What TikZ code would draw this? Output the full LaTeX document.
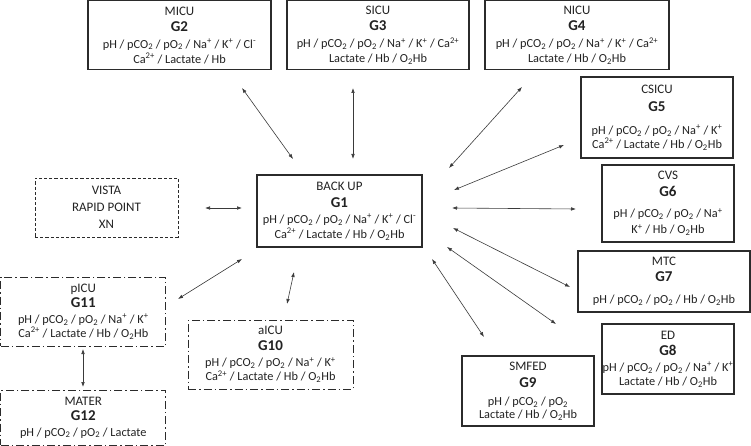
\documentclass[tikz,border=0pt]{standalone}
\usepackage{fontspec}
\setmainfont{Carlito}
\usetikzlibrary{arrows.meta}
\newcommand\mysub[1]{\textsubscript{#1}}
\newcommand\mysup[1]{\textsuperscript{#1}}
\newcommand\gf{\fontsize{15}{15}\selectfont\bfseries}
\newcommand\tf{\fontsize{13}{15}\selectfont}
\definecolor{ink}{HTML}{222222}
\definecolor{edge}{HTML}{2B2B2B}
\definecolor{arr}{HTML}{3A3A3A}
\begin{document}
\begin{tikzpicture}[x=1pt,y=-1pt,
  box/.style={draw=edge, line width=1.2pt, rectangle, inner sep=0pt, align=center,
    text=ink, font=\fontsize{12.3}{15}\selectfont},
  dbox/.style={box, line width=0.9pt, dash pattern=on 3.2pt off 2pt},
  ddbox/.style={box, line width=0.9pt, dash pattern=on 8pt off 3pt on 1.5pt off 3pt},
  link/.style={draw=arr, line width=0.6pt, {Latex[length=5pt,width=3.6pt]}-{Latex[length=5pt,width=3.6pt]}}]
\useasboundingbox (0,0) rectangle (751,446);

% top row
\node[box, minimum width=183pt, minimum height=69pt] (g2) at (179.5,35.2)
  {{\tf MICU}\\[1pt]{\gf G2}\\[2pt]pH / pCO\mysub{2} / pO\mysub{2} / Na\mysup{+} / K\mysup{+} / Cl\mysup{-}\\Ca\mysup{2+} / Lactate / Hb};
\node[box, minimum width=182pt, minimum height=69pt] (g3) at (378,35.2)
  {{\tf SICU}\\[1pt]{\gf G3}\\[2pt]pH / pCO\mysub{2} / pO\mysub{2} / Na\mysup{+} / K\mysup{+} / Ca\mysup{2+}\\Lactate / Hb / O\mysub{2}Hb};
\node[box, minimum width=184pt, minimum height=69pt] (g4) at (577,35.2)
  {{\tf NICU}\\[1pt]{\gf G4}\\[2pt]pH / pCO\mysub{2} / pO\mysub{2} / Na\mysup{+} / K\mysup{+} / Ca\mysup{2+}\\Lactate / Hb / O\mysub{2}Hb};

% right column
\node[box, minimum width=152pt, minimum height=81pt] (g5) at (657,117.5)
  {{\tf CSICU}\\[3pt]{\gf G5}\\[8pt]pH / pCO\mysub{2} / pO\mysub{2} / Na\mysup{+} / K\mysup{+}\\[-1pt]Ca\mysup{2+} / Lactate / Hb / O\mysub{2}Hb};
\node[box, minimum width=132pt, minimum height=77pt] (g6) at (668,203.5)
  {{\tf CVS}\\[2pt]{\gf G6}\\[6pt]pH / pCO\mysub{2} / pO\mysub{2} / Na\mysup{+}\\[1pt]K\mysup{+} / Hb / O\mysub{2}Hb};
\node[box, minimum width=172pt, minimum height=61pt] (g7) at (664,281.5)
  {{\tf MTC}\\[1pt]{\gf G7}\\[7pt]pH / pCO\mysub{2} / pO\mysub{2} / Hb / O\mysub{2}Hb};
\node[box, minimum width=132pt, minimum height=70pt] (g8) at (668,359)
  {{\tf ED}\\[1pt]{\gf G8}\\[1pt]pH / pCO\mysub{2} / pO\mysub{2} / Na\mysup{+} / K\mysup{+}\\[-1pt]Lactate / Hb / O\mysub{2}Hb};
\node[box, minimum width=132pt, minimum height=70pt] (g9) at (528,391)
  {{\tf SMFED}\\[2pt]{\gf G9}\\[3pt]pH / pCO\mysub{2} / pO\mysub{2}\\[-2pt]Lactate / Hb / O\mysub{2}Hb};

% centre
\node[box, minimum width=165pt, minimum height=72pt] (g1) at (339.5,211)
  {{\tf BACK UP}\\[2pt]{\gf G1}\\[1pt]pH / pCO\mysub{2} / pO\mysub{2} / Na\mysup{+} / K\mysup{+} / Cl\mysup{-}\\Ca\mysup{2+} / Lactate / Hb / O\mysub{2}Hb};
\node[dbox, minimum width=143pt, minimum height=59pt, font=\tf] (vista) at (106.5,207.5)
  {VISTA\\[2pt]RAPID POINT\\[2pt]XN};

% left / bottom dash-dot boxes
\node[ddbox, minimum width=165pt, minimum height=69pt] (g11) at (83.3,311.5)
  {{\tf pICU}\\{\gf G11}\\[1pt]pH / pCO\mysub{2} / pO\mysub{2} / Na\mysup{+} / K\mysup{+}\\[-1pt]Ca\mysup{2+} / Lactate / Hb / O\mysub{2}Hb};
\node[ddbox, minimum width=165pt, minimum height=69pt] (g10) at (270.5,354.5)
  {{\tf aICU}\\[1pt]{\gf G10}\\[1pt]pH / pCO\mysub{2} / pO\mysub{2} / Na\mysup{+} / K\mysup{+}\\[-1pt]Ca\mysup{2+} / Lactate / Hb / O\mysub{2}Hb};
\node[ddbox, minimum width=165pt, minimum height=55pt] (g12) at (83.3,417.5)
  {{\tf MATER}\\{\gf G12}\\[1pt]pH / pCO\mysub{2} / pO\mysub{2} / Lactate};

% connector end points
\coordinate (a2s) at (242,88);  \coordinate (a2e) at (293,159);
\coordinate (a3s) at (353,88);  \coordinate (a3e) at (353,159);
\coordinate (a4s) at (522,87);  \coordinate (a4e) at (449,168);
\coordinate (a5s) at (564,145); \coordinate (a5e) at (454,190);
\coordinate (a6s) at (576,209); \coordinate (a6e) at (452,208);
\coordinate (a7s) at (570,287); \coordinate (a7e) at (453,228);
\coordinate (a8s) at (556,324); \coordinate (a8e) at (447,247);
\coordinate (a9s) at (484,337); \coordinate (a9e) at (432,259);
\coordinate (avs) at (205,208); \coordinate (ave) at (242,208);
\coordinate (a11s) at (178,299); \coordinate (a11e) at (242,259);
\coordinate (a10s) at (287,304); \coordinate (a10e) at (294,272);
\coordinate (a12s) at (83,349); \coordinate (a12e) at (83,387);

\draw[link] (a2s) -- (a2e);
\draw[link] (a3s) -- (a3e);
\draw[link] (a4s) -- (a4e);
\draw[link] (a5s) -- (a5e);
\draw[link] (a6s) -- (a6e);
\draw[link] (a7s) -- (a7e);
\draw[link] (a8s) -- (a8e);
\draw[link] (a9s) -- (a9e);
\draw[link] (avs) -- (ave);
\draw[link] (a11s) -- (a11e);
\draw[link] (a10s) -- (a10e);
\draw[link] (a12s) -- (a12e);
\end{tikzpicture}
\end{document}
